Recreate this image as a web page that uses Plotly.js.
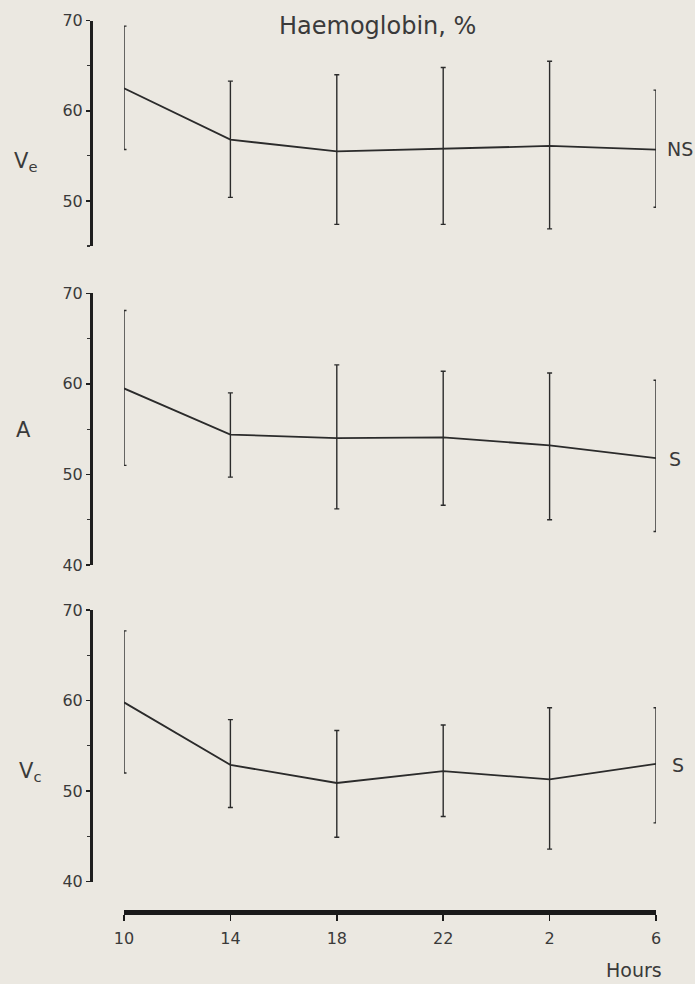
<!DOCTYPE html>
<html>
<head>
<meta charset="utf-8">
<script src="https://cdn.plot.ly/plotly-3.0.1.min.js"></script>
<style>
  html, body { margin: 0; padding: 0; background: #ebe8e1; }
  #chart { width: 695px; height: 984px; }
</style>
</head>
<body>
<div id="chart"></div>
<script>
// Time of day (hours)
const hourLabels = ['10', '14', '18', '22', '2', '6'];
const hourIndex = [0, 1, 2, 3, 4, 5];

// Ve panel (NS)
const veMean  = [62.5, 56.8, 55.5, 55.8, 56.1, 55.7];
const veUpper = [69.4, 63.3, 64.0, 64.8, 65.5, 62.3];
const veLower = [55.7, 50.4, 47.4, 47.4, 46.9, 49.3];

// A panel (S)
const aMean  = [59.5, 54.4, 54.0, 54.1, 53.2, 51.8];
const aUpper = [68.1, 59.0, 62.1, 61.4, 61.2, 60.4];
const aLower = [51.0, 49.7, 46.2, 46.6, 45.0, 43.7];

// Vc panel (S)
const vcMean  = [59.8, 52.9, 50.9, 52.2, 51.3, 53.0];
const vcUpper = [67.7, 57.9, 56.7, 57.3, 59.2, 59.2];
const vcLower = [52.0, 48.2, 44.9, 47.2, 43.6, 46.5];

const ink = '#2b2b2b';
const txt = '#3a3a3a';
const fontFam = '"DejaVu Sans", Verdana, sans-serif';

function mk(mean, upper, lower, yax) {
  return {
    x: hourIndex, y: mean, xaxis: 'x', yaxis: yax,
    type: 'scatter', mode: 'lines', cliponaxis: false,
    line: { color: ink, width: 1.8 },
    error_y: {
      type: 'data', symmetric: false,
      array: upper.map((u, i) => u - mean[i]),
      arrayminus: mean.map((m, i) => m - lower[i]),
      color: ink, thickness: 1.4, width: 2.5
    },
    hoverinfo: 'skip', showlegend: false
  };
}

const data = [
  mk(veMean, veUpper, veLower, 'y'),
  mk(aMean, aUpper, aLower, 'y2'),
  mk(vcMean, vcUpper, vcLower, 'y3')
];

const yBase = {
  anchor: 'free', position: 91/695,
  showline: true, linecolor: '#1e1e1e', linewidth: 3,
  showgrid: false, zeroline: false,
  ticks: 'outside', ticklen: 4, tickwidth: 1.5, tickcolor: '#1e1e1e',
  tick0: 0, dtick: 10,
  minor: { tick0: 0, dtick: 5, ticks: 'outside', ticklen: 3, tickwidth: 1.2, tickcolor: '#333' },
  tickfont: { family: fontFam, size: 16, color: txt },
  fixedrange: true
};

function lab(text, px, py, size, xa) {
  return {
    text: text, xref: 'paper', yref: 'paper', x: px / 695, y: 1 - py / 984,
    xanchor: xa || 'center', yanchor: 'middle',
    showarrow: false, font: { family: fontFam, size: size, color: txt }
  };
}

const layout = {
  width: 695, height: 984,
  margin: { l: 0, r: 0, t: 0, b: 0 },
  paper_bgcolor: '#ebe8e1',
  plot_bgcolor: 'rgba(0,0,0,0)',
  showlegend: false,
  xaxis: {
    domain: [124/695, 656/695],
    range: [0, 5],
    anchor: 'free', position: 1 - 912/984,
    tickmode: 'array', tickvals: hourIndex, ticktext: hourLabels,
    showline: true, linecolor: '#1a1a1a', linewidth: 4.5,
    showgrid: false, zeroline: false,
    ticks: 'outside', ticklen: 6, tickwidth: 1.5, tickcolor: '#1a1a1a',
    ticklabelstandoff: 4,
    tickfont: { family: fontFam, size: 16, color: txt },
    fixedrange: true
  },
  yaxis: Object.assign({}, yBase, { domain: [1 - 246/984, 1 - 20.7/984], range: [45, 70] }),
  yaxis2: Object.assign({}, yBase, { domain: [1 - 565/984, 1 - 293.3/984], range: [40, 70] }),
  yaxis3: Object.assign({}, yBase, { domain: [1 - 881.7/984, 1 - 610/984], range: [40, 70] }),
  annotations: [
    lab('Haemoglobin, %', 377, 26, 24),
    lab('V<sub>e</sub>', 25, 162, 21),
    lab('A', 23, 430, 21),
    lab('V<sub>c</sub>', 30, 772, 21),
    lab('NS', 665, 149, 19, 'left'),
    lab('S', 667, 459, 19, 'left'),
    lab('S', 670, 765, 19, 'left'),
    lab('Hours', 664, 970, 19, 'right')
  ]
};

Plotly.newPlot('chart', data, layout, { displayModeBar: false, staticPlot: true });
</script>
</body>
</html>
